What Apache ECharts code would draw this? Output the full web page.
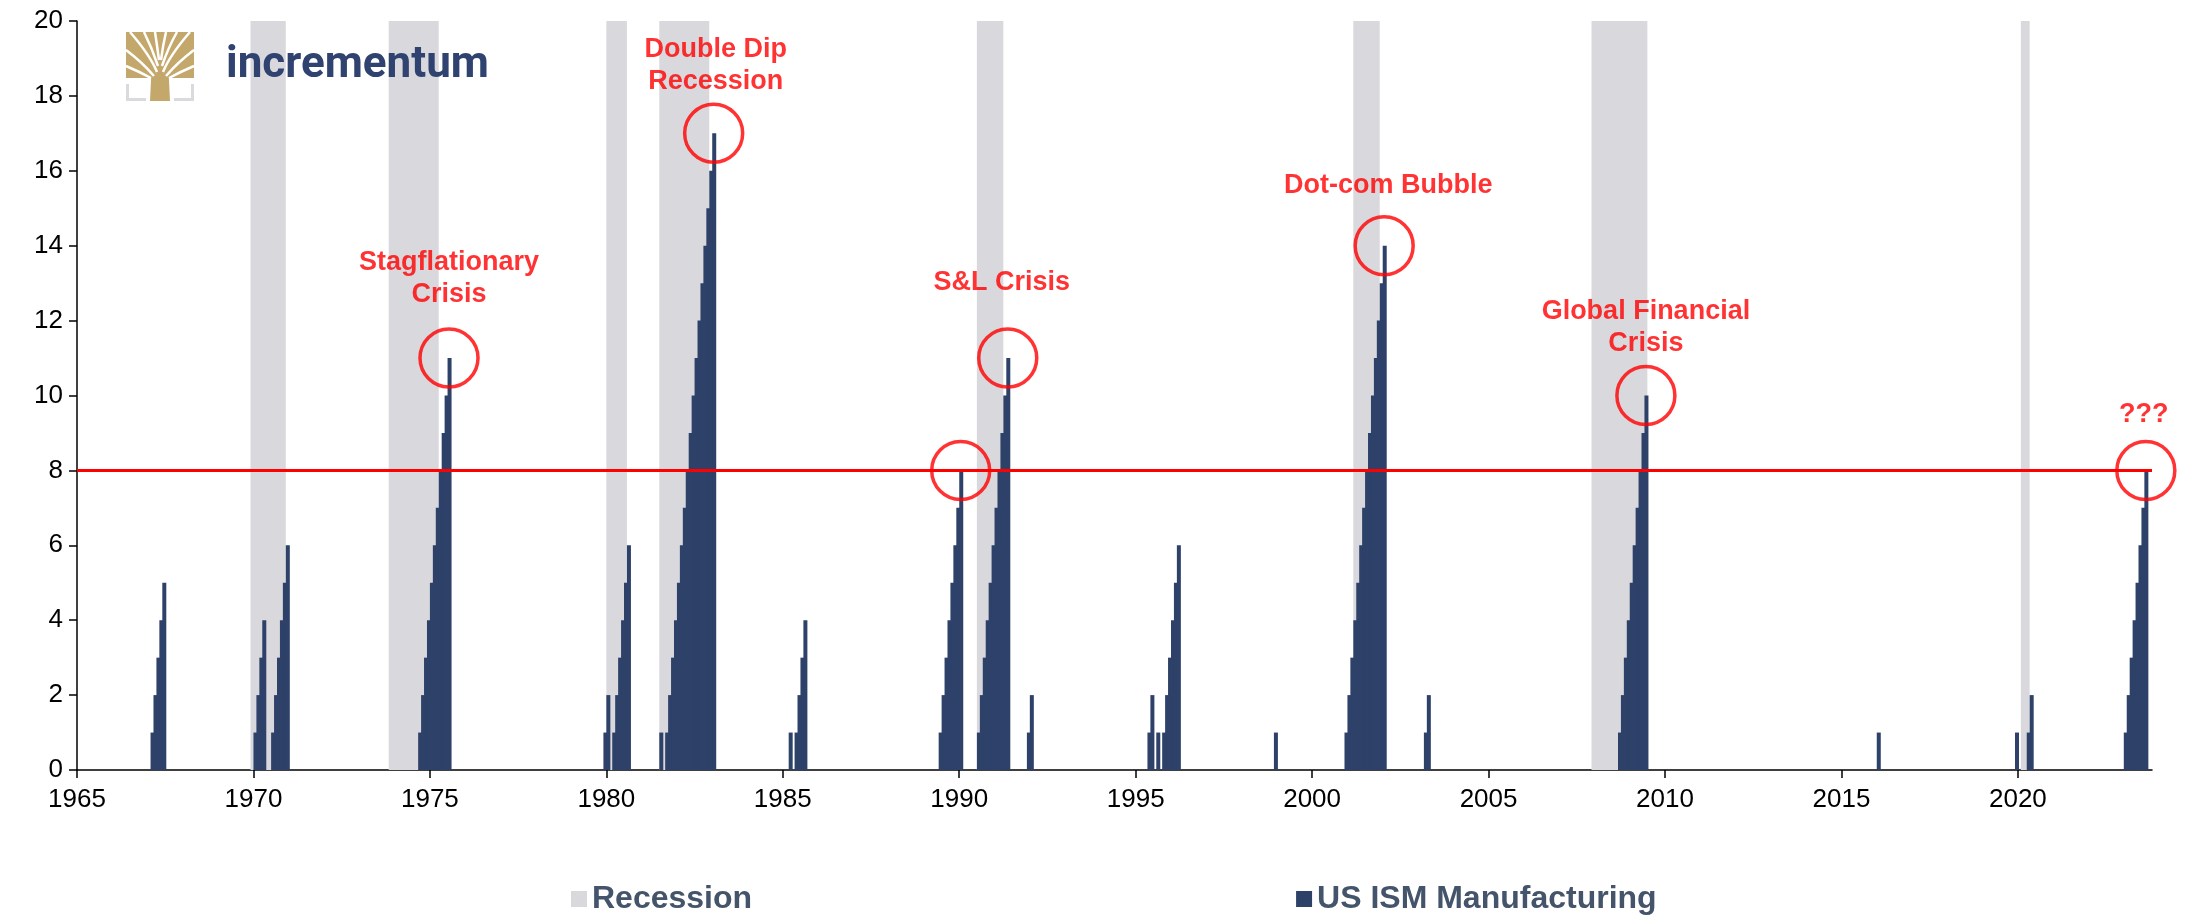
<!DOCTYPE html>
<html>
<head>
<meta charset="utf-8">
<title>US ISM Manufacturing</title>
<script src="https://cdn.jsdelivr.net/npm/echarts@6/dist/echarts.min.js"></script>
<style>
  html, body { margin: 0; padding: 0; background: #fff; }
  #chart { width: 2186px; height: 916px; }
</style>
</head>
<body>
<div id="chart"></div>
<script>
// months in a row counted by the chart (only non-zero months listed)
const months = [
  '1967-02', '1967-03', '1967-04', '1967-05', '1967-06',
  '1970-01', '1970-02', '1970-03', '1970-04',
  '1970-07', '1970-08', '1970-09', '1970-10', '1970-11', '1970-12',
  '1974-09', '1974-10', '1974-11', '1974-12', '1975-01', '1975-02', '1975-03', '1975-04', '1975-05', '1975-06', '1975-07',
  '1979-12', '1980-01',
  '1980-03', '1980-04', '1980-05', '1980-06', '1980-07', '1980-08',
  '1981-07',
  '1981-09', '1981-10', '1981-11', '1981-12', '1982-01', '1982-02', '1982-03', '1982-04', '1982-05', '1982-06',
  '1982-07', '1982-08', '1982-09', '1982-10', '1982-11', '1982-12', '1983-01',
  '1985-03',
  '1985-05', '1985-06', '1985-07', '1985-08',
  '1989-06', '1989-07', '1989-08', '1989-09', '1989-10', '1989-11', '1989-12', '1990-01',
  '1990-07', '1990-08', '1990-09', '1990-10', '1990-11', '1990-12', '1991-01', '1991-02', '1991-03', '1991-04', '1991-05',
  '1991-12', '1992-01',
  '1995-05', '1995-06',
  '1995-08',
  '1995-10', '1995-11', '1995-12', '1996-01', '1996-02', '1996-03',
  '1998-12',
  '2000-12', '2001-01', '2001-02', '2001-03', '2001-04', '2001-05', '2001-06', '2001-07', '2001-08', '2001-09',
  '2001-10', '2001-11', '2001-12', '2002-01',
  '2003-03', '2003-04',
  '2008-09', '2008-10', '2008-11', '2008-12', '2009-01', '2009-02', '2009-03', '2009-04', '2009-05', '2009-06',
  '2016-01',
  '2019-12',
  '2020-04', '2020-05',
  '2023-01', '2023-02', '2023-03', '2023-04', '2023-05', '2023-06', '2023-07', '2023-08'
]
const counts = [
  1, 2, 3, 4, 5,
  1, 2, 3, 4,
  1, 2, 3, 4, 5, 6,
  1, 2, 3, 4, 5, 6, 7, 8, 9, 10, 11,
  1, 2,
  1, 2, 3, 4, 5, 6,
  1,
  1, 2, 3, 4, 5, 6, 7, 8, 9, 10,
  11, 12, 13, 14, 15, 16, 17,
  1,
  1, 2, 3, 4,
  1, 2, 3, 4, 5, 6, 7, 8,
  1, 2, 3, 4, 5, 6, 7, 8, 9, 10, 11,
  1, 2,
  1, 2,
  1,
  1, 2, 3, 4, 5, 6,
  1,
  1, 2, 3, 4, 5, 6, 7, 8, 9, 10,
  11, 12, 13, 14,
  1, 2,
  1, 2, 3, 4, 5, 6, 7, 8, 9, 10,
  1,
  1,
  1, 2,
  1, 2, 3, 4, 5, 6, 7, 8
]

// NBER recessions, first and last month
const recessionStarts = ['1969-12', '1973-11', '1980-01', '1981-07', '1990-07', '2001-03', '2007-12', '2020-02']
const recessionEnds = ['1970-11', '1975-03', '1980-07', '1982-11', '1991-03', '2001-11', '2009-06', '2020-04']

const threshold = 8
const xTicks = [1965, 1970, 1975, 1980, 1985, 1990, 1995, 2000, 2005, 2010, 2015, 2020]

// circled months and their notes
const noteMonths = ['1975-07', '1983-01', '1990-01', '1991-05', '2002-01', '2009-06', '2023-08']
const noteTexts = ['Stagflationary\nCrisis', 'Double Dip\nRecession', '', 'S&L Crisis', 'Dot-com Bubble', 'Global Financial\nCrisis', '???']

// label placement for each note (px)
const noteGap = [17, 5, 0, 29, 13, 5, 9]
const noteShift = [0, 2, 0, -6, 4, 0, -2]

const NAVY = '#2E4169'
const GREY = '#D9D8DC'
const RED = '#FF0000'
const FONT = 'Arial, "Liberation Sans", sans-serif'

const toYear = (s, part) => {
  const [y, m] = s.split('-').map(Number)
  return y + (m - 1 + part) / 12
}

const barData = months.map((m, i) => [toYear(m, 0.5), counts[i]])

const bands = recessionStarts.map((s, i) => [
  { xAxis: toYear(s, 0), yAxis: 0 },
  { xAxis: toYear(recessionEnds[i], 1), yAxis: 20 }
])

const circles = noteMonths.map((m, i) => ({
  value: [toYear(m, 0.5), counts[months.indexOf(m)]],
  label: {
    show: noteTexts[i] !== '',
    formatter: noteTexts[i],
    distance: noteGap[i],
    offset: [noteShift[i], 0]
  }
}))

const chart = echarts.init(document.getElementById('chart'))

const branch = (x1, y1, cx, cy, x2, y2) => ({
  type: 'bezierCurve',
  z: 100,
  shape: { x1, y1, cpx1: cx, cpy1: cy, x2, y2 },
  style: { stroke: '#fff', lineWidth: 2.5, fill: null }
})

const option = {
  animation: false,
  backgroundColor: '#fff',
  textStyle: { fontFamily: FONT },
  grid: { left: 77, right: 34, top: 21, bottom: 146, containLabel: false },
  legend: {
    data: ['Recession', 'US ISM Manufacturing'],
    left: 566,
    top: 878,
    icon: 'rect',
    itemWidth: 16,
    itemHeight: 16,
    itemGap: 544,
    selectedMode: false,
    textStyle: { fontSize: 32, fontWeight: 'bold', color: '#44546A', fontFamily: FONT }
  },
  xAxis: {
    type: 'value',
    min: 1965,
    max: 2023.8,
    splitLine: { show: false },
    axisLine: { lineStyle: { color: '#000', width: 1.5 } },
    axisTick: { customValues: xTicks, length: 8, lineStyle: { color: '#000', width: 1.5 } },
    axisLabel: {
      customValues: xTicks,
      color: '#000',
      fontSize: 26,
      margin: 17,
      formatter: v => String(v)
    }
  },
  yAxis: {
    type: 'value',
    min: 0,
    max: 20,
    interval: 2,
    splitLine: { show: false },
    axisLine: { show: true, lineStyle: { color: '#000', width: 1.5 } },
    axisTick: { show: true, length: 8, lineStyle: { color: '#000', width: 1.5 } },
    axisLabel: { color: '#000', fontSize: 26, margin: 14 }
  },
  series: [
    {
      name: 'Recession',
      type: 'bar',
      data: [],
      z: 1,
      itemStyle: { color: GREY },
      markArea: {
        silent: true,
        itemStyle: { color: GREY },
        data: bands
      }
    },
    {
      name: 'US ISM Manufacturing',
      type: 'bar',
      data: barData,
      barWidth: 4,
      z: 3,
      itemStyle: { color: NAVY },
      markLine: {
        silent: true,
        symbol: 'none',
        label: { show: false },
        lineStyle: { color: RED, width: 3, type: 'solid' },
        data: [{ yAxis: threshold }]
      }
    },
    {
      name: 'notes',
      type: 'scatter',
      data: circles,
      z: 5,
      symbol: 'circle',
      symbolSize: 58,
      itemStyle: { color: 'rgba(0,0,0,0)', borderColor: RED, borderWidth: 3.5 },
      label: {
        position: 'top',
        color: RED,
        fontSize: 27,
        fontWeight: 'bold',
        lineHeight: 32,
        align: 'center'
      }
    }
  ],
  graphic: [
    { type: 'rect', z: 100, shape: { x: 126, y: 32, width: 68, height: 46 }, style: { fill: '#C4A86B' } },
    { type: 'polygon', z: 100, shape: { points: [[152, 60], [168, 60], [170, 101], [150, 101]] }, style: { fill: '#C4A86B' } },
    branch(157, 72, 150, 55, 130, 32),
    branch(158, 66, 152, 48, 144, 32),
    branch(159, 60, 157, 45, 155, 32),
    branch(161, 60, 163, 45, 166, 32),
    branch(162, 66, 168, 48, 177, 32),
    branch(163, 72, 170, 55, 190, 32),
    branch(154, 76, 142, 62, 126, 50),
    branch(166, 76, 178, 62, 194, 50),
    branch(151, 78, 140, 72, 126, 66),
    branch(169, 78, 180, 72, 194, 66),
    { type: 'polyline', z: 100, shape: { points: [[127.5, 84], [127.5, 99.5], [146, 99.5]] }, style: { stroke: '#D9D9DE', lineWidth: 3, fill: null } },
    { type: 'polyline', z: 100, shape: { points: [[192.5, 84], [192.5, 99.5], [174, 99.5]] }, style: { stroke: '#D9D9DE', lineWidth: 3, fill: null } },
    {
      type: 'text',
      z: 100,
      style: {
        text: 'incrementum',
        x: 226,
        y: 66,
        verticalAlign: 'middle',
        fill: '#2F4270',
        font: 'bold 44px Roboto, Arial, sans-serif'
      }
    }
  ]
}

chart.setOption(option)
</script>
</body>
</html>
